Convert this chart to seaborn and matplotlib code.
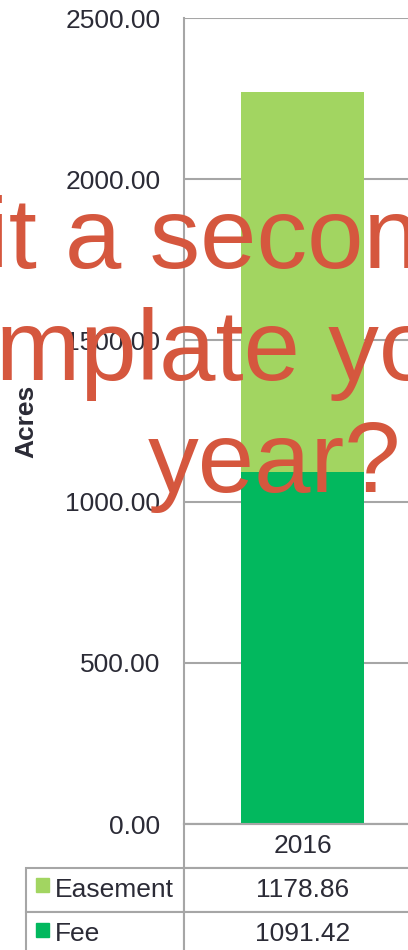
import matplotlib
matplotlib.use("Agg")
import matplotlib.pyplot as plt
import matplotlib.patches as mpatches
import pandas as pd
import seaborn as sns

# Data
years = ['2016']
series = ['Easement', 'Fee']
easement = [1178.86]
fee = [1091.42]
yticks = [0, 500, 1000, 1500, 2000, 2500]
overlay_lines = ['Wait a second', 'contemplate your', 'year?']

colors = {'Easement': '#A2D561', 'Fee': '#02B85E'}
text_color = '#2B2B36'
grid_color = '#A6A6A6'
overlay_color = '#D5573E'

df = pd.DataFrame({'Year': years, 'Easement': easement, 'Fee': fee})
df['Total'] = df['Easement'] + df['Fee']

sns.set_style('white')
plt.rcParams['font.family'] = ['Liberation Sans', 'DejaVu Sans']

W, H = 408, 950
fig = plt.figure(figsize=(W / 100, H / 100), dpi=100)
ax = fig.add_axes([184 / W, 126 / H, 237 / W, 806 / H])

# stacked bar: total (easement on top) then fee over it
sns.barplot(data=df, x='Year', y='Total', color=colors['Easement'],
            width=0.52, saturation=1, linewidth=0, ax=ax)
sns.barplot(data=df, x='Year', y='Fee', color=colors['Fee'],
            width=0.52, saturation=1, linewidth=0, ax=ax)

ax.set_xlim(-0.5, 0.5)
ax.set_ylim(0, 2500)
ax.set_xticks([])
ax.set_xlabel('')
ax.set_yticks(yticks)
ax.set_yticklabels([f'{v:.2f}' for v in yticks])
ax.tick_params(axis='y', length=0, pad=17, labelsize=19, labelcolor=text_color)
ax.yaxis.grid(True, color=grid_color, linewidth=1.5)
ax.set_axisbelow(True)
for side in ['top', 'right']:
    ax.spines[side].set_visible(False)
for side in ['left', 'bottom']:
    ax.spines[side].set_color(grid_color)
    ax.spines[side].set_linewidth(1.5)

ax.set_ylabel('Acres', fontsize=19, fontweight='bold', color=text_color)
ax.yaxis.set_label_coords(-0.615, 0.5)

# data table under the axis
cell_text = [[s, f'{v:.2f}'] for s, v in zip(series, [easement[0], fee[0]])]
tbl = ax.table(cellText=cell_text, colLabels=['', years[0]],
               colWidths=[158 / 395, 237 / 395], cellLoc='center',
               bbox=[-158 / 237, -132 / 806, 395 / 237, 132 / 806])
tbl.auto_set_font_size(False)
tbl.set_fontsize(19)
for (r, c), cell in tbl.get_celld().items():
    cell.set_edgecolor(grid_color)
    cell.set_linewidth(1.5)
    cell.get_text().set_color(text_color)
    if r == 0 and c == 0:
        cell.visible_edges = ''
    if r > 0 and c == 0:
        cell._loc = 'left'
        cell.PAD = 0.18
        cell.get_text().set_ha('left')

# legend keys in the table
for i, s in enumerate(series):
    y0 = 878 + i * 45
    fig.add_artist(mpatches.Rectangle((36 / W, 1 - (y0 + 14) / H), 13 / W, 14 / H,
                                      transform=fig.transFigure, color=colors[s]))

# overlay text
for line, x0, base in zip(overlay_lines, [-162, -252, 148], [268, 380, 492]):
    fig.text(x0 / W, 1 - base / H, line, fontsize=73, color=overlay_color,
             ha='left', va='baseline', zorder=10)

fig.savefig('out.png', dpi=100)
